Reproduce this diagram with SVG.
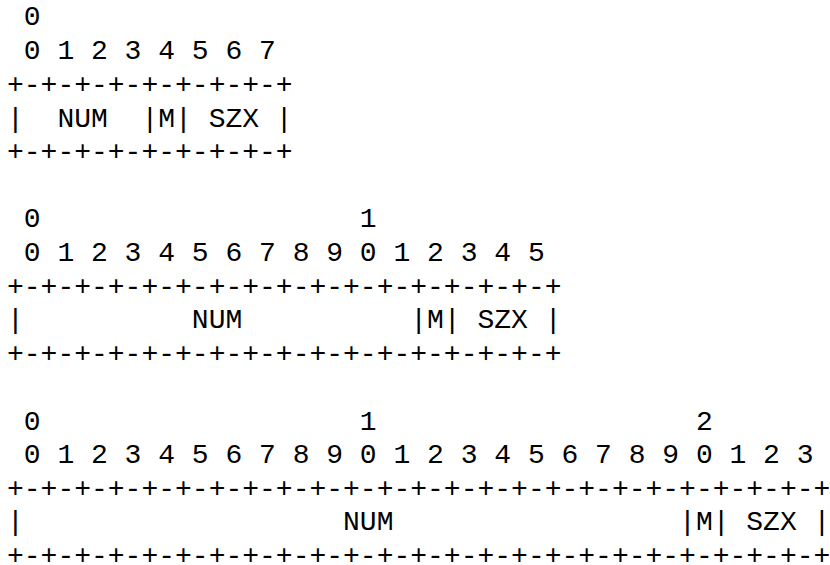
<svg xmlns="http://www.w3.org/2000/svg" width="830" height="565" viewBox="0 0 830 565">
<style>
text{font-family:"Liberation Mono","Courier New",monospace;font-size:28px;fill:#000;white-space:pre}
</style>
<rect width="830" height="565" fill="#fff"/>
<g id="fig8" xml:space="preserve">
<text x="7" y="25"> 0</text>
<text x="7" y="59"> 0 1 2 3 4 5 6 7</text>
<text x="7" y="93">+-+-+-+-+-+-+-+-+</text>
<text x="7" y="127">|  NUM  |M| SZX |</text>
<text x="7" y="160">+-+-+-+-+-+-+-+-+</text>
</g>
<g id="fig16" xml:space="preserve">
<text x="7" y="227"> 0                   1</text>
<text x="7" y="261"> 0 1 2 3 4 5 6 7 8 9 0 1 2 3 4 5</text>
<text x="7" y="295">+-+-+-+-+-+-+-+-+-+-+-+-+-+-+-+-+</text>
<text x="7" y="328">|          NUM          |M| SZX |</text>
<text x="7" y="362">+-+-+-+-+-+-+-+-+-+-+-+-+-+-+-+-+</text>
</g>
<g id="fig24" xml:space="preserve">
<text x="7" y="430"> 0                   1                   2</text>
<text x="7" y="463"> 0 1 2 3 4 5 6 7 8 9 0 1 2 3 4 5 6 7 8 9 0 1 2 3</text>
<text x="7" y="497">+-+-+-+-+-+-+-+-+-+-+-+-+-+-+-+-+-+-+-+-+-+-+-+-+</text>
<text x="7" y="530">|                   NUM                 |M| SZX |</text>
<text x="7" y="564">+-+-+-+-+-+-+-+-+-+-+-+-+-+-+-+-+-+-+-+-+-+-+-+-+</text>
</g>
</svg>
